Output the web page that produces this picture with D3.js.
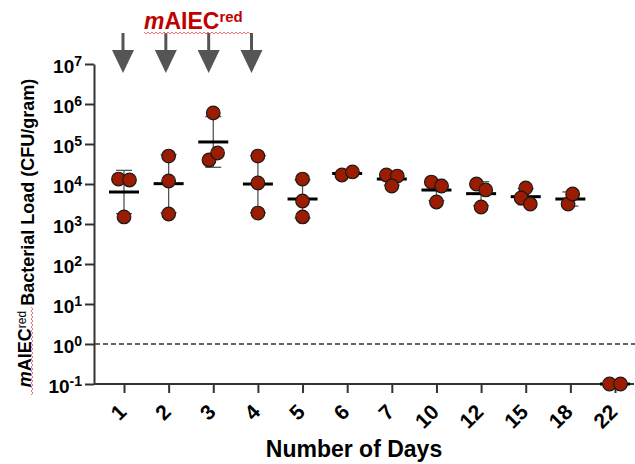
<!DOCTYPE html>
<html>
<head>
<meta charset="utf-8">
<script src="https://cdn.jsdelivr.net/npm/d3@7"></script>
<style>
  body { margin: 0; background: #fff; }
  svg { display: block; font-family: "Liberation Sans", Arial, Helvetica, sans-serif; }
</style>
</head>
<body>
<script>
// days sampled (categorical x axis)
var days = ["1", "2", "3", "4", "5", "6", "7", "10", "12", "15", "18", "22"];

// mAIEC-red load per mouse, CFU/gram, one list per day
var loadValues = [
  [13300, 12600, 1500],
  [50000, 11900, 1780],
  [596000, 40000, 59600],
  [50000, 10600, 1880],
  [13300, 3760, 1500],
  [16800, 20000],
  [16800, 15800, 8900],
  [11200, 8900, 3550],
  [10000, 7100, 2660],
  [7940, 4470, 3160],
  [3160, 5620],
  [0.1, 0.1]
];

// gavage days marked with arrows
var doseDays = ["1", "2", "3", "4"];

var yTicks = [1e-1, 1e0, 1e1, 1e2, 1e3, 1e4, 1e5, 1e6, 1e7];
var detectionLimit = 1;

var w = 635;
var h = 464;

var svg = d3.select("body").append("svg")
  .attr("width", w)
  .attr("height", h);

var x = d3.scalePoint().domain(days).range([124, 615]);
var y = d3.scaleLog().domain([0.1, 1e7]).range([384, 64]);

var axisColor = "#333";
var dotFill = "#9b1c00";

// y axis
var yAxis = svg.append("g")
  .attr("transform", "translate(94,0)")
  .call(d3.axisLeft(y).tickValues(yTicks).tickSize(9).tickSizeOuter(0).tickPadding(3));

yAxis.select(".domain").attr("stroke", axisColor).attr("stroke-width", 2);
yAxis.selectAll(".tick line").attr("stroke", axisColor).attr("stroke-width", 2);
yAxis.selectAll(".tick text")
  .attr("fill", "#000")
  .style("font-size", "19px")
  .style("font-weight", "bold")
  .attr("dy", "0.45em")
  .each(function(d) {
    var t = d3.select(this);
    t.text("");
    t.append("tspan").text("10");
    t.append("tspan")
      .attr("dy", "-0.5em")
      .style("font-size", "14px")
      .text(Math.round(Math.log10(d)));
  });

// x axis
var xAxis = svg.append("g")
  .attr("transform", "translate(0,384)")
  .call(d3.axisBottom(x).tickSize(9).tickSizeOuter(0));

xAxis.select(".domain").remove();
xAxis.selectAll(".tick line").attr("stroke", axisColor).attr("stroke-width", 2);
xAxis.selectAll(".tick text")
  .attr("fill", "#000")
  .style("font-size", "21px")
  .style("font-weight", "bold")
  .style("text-anchor", "end")
  .attr("y", 0)
  .attr("dy", "0.35em")
  .attr("transform", "translate(-2,24) rotate(-45)");

svg.append("line")
  .attr("x1", 94).attr("x2", 634)
  .attr("y1", 384).attr("y2", 384)
  .attr("stroke", axisColor)
  .attr("stroke-width", 2);

// limit of detection
svg.append("line")
  .attr("x1", 95).attr("x2", 635)
  .attr("y1", y(detectionLimit)).attr("y2", y(detectionLimit))
  .attr("stroke", "#333")
  .attr("stroke-width", 1.5)
  .attr("stroke-dasharray", "5,3");

// geometric mean and geometric SD for each day
var stats = days.map(function(day, i) {
  var logs = loadValues[i].map(function(v) { return Math.log10(v); });
  var m = d3.mean(logs);
  var sd = logs.length > 1 ? d3.deviation(logs) : 0;
  return { day: day, mean: Math.pow(10, m), lo: Math.pow(10, m - sd), hi: Math.pow(10, m + sd), sd: sd };
});

var bars = svg.append("g")
  .attr("stroke", "#555")
  .attr("stroke-width", 1.3);

stats.filter(function(s) { return s.sd > 0; }).forEach(function(s) {
  var cx = x(s.day);
  bars.append("line").attr("x1", cx).attr("x2", cx).attr("y1", y(s.hi)).attr("y2", y(s.lo));
  bars.append("line").attr("x1", cx - 8).attr("x2", cx + 8).attr("y1", y(s.hi)).attr("y2", y(s.hi));
  bars.append("line").attr("x1", cx - 8).attr("x2", cx + 8).attr("y1", y(s.lo)).attr("y2", y(s.lo));
});

svg.append("g").selectAll("line")
  .data(stats)
  .enter()
  .append("line")
  .attr("x1", function(d) { return x(d.day) - 15; })
  .attr("x2", function(d) { return x(d.day) + 15; })
  .attr("y1", function(d) { return y(d.mean); })
  .attr("y2", function(d) { return y(d.mean); })
  .attr("stroke", "#000")
  .attr("stroke-width", 3);

// scatter dots, spread sideways where they overlap
var dots = [];
days.forEach(function(day, i) {
  var n = loadValues[i].length;
  var nodes = loadValues[i].map(function(v, j) {
    return { v: v, x: x(day) + (j - (n - 1) / 2) * 0.5, y: y(v), fy: y(v) };
  });
  var sim = d3.forceSimulation(nodes)
    .force("x", d3.forceX(x(day)).strength(0.05))
    .force("collide", d3.forceCollide(5.5))
    .stop();
  for (var k = 0; k < 200; k++) sim.tick();
  dots = dots.concat(nodes);
});

svg.append("g").selectAll("circle")
  .data(dots)
  .enter()
  .append("circle")
  .attr("cx", function(d) { return d.x; })
  .attr("cy", function(d) { return d.fy; })
  .attr("r", 6.8)
  .attr("fill", dotFill)
  .attr("stroke", "#1a1a1a")
  .attr("stroke-width", 1.2);

// dosing arrows
var arrows = svg.append("g").attr("fill", "#555").attr("stroke", "#555");
doseDays.forEach(function(day, i) {
  var cx = x(day) - 1 - i * 1.8;
  arrows.append("line")
    .attr("x1", cx).attr("x2", cx)
    .attr("y1", 33).attr("y2", 52)
    .attr("stroke-width", 3);
  arrows.append("path")
    .attr("stroke", "none")
    .attr("d", "M" + (cx - 11) + ",50L" + (cx + 11) + ",50L" + cx + ",73Z");
});

// squiggly underline (as in the source image)
function squiggle(x0, y0, len, vertical) {
  var pts = [];
  for (var s = 0; s <= len; s += 2) {
    var off = (s / 2) % 2 === 0 ? 0 : 2;
    pts.push(vertical ? [x0 + off, y0 - s] : [x0 + s, y0 + off]);
  }
  svg.append("path")
    .attr("d", d3.line()(pts))
    .attr("fill", "none")
    .attr("stroke", "#e8504f")
    .attr("stroke-width", 0.8);
}

// title over the arrows
var title = svg.append("text")
  .attr("x", 144)
  .attr("y", 29)
  .attr("fill", "#c00000")
  .style("font-size", "23px")
  .style("font-weight", "bold");
title.append("tspan").style("font-style", "italic").text("m");
title.append("tspan").text("AIEC");
title.append("tspan").attr("dy", "-0.45em").style("font-size", "15px").text("red");
squiggle(144, 32, 106, false);

// y axis title
var yTitle = svg.append("text")
  .attr("transform", "translate(31,233) rotate(-90)")
  .attr("text-anchor", "middle")
  .attr("fill", "#000")
  .style("font-size", "18px")
  .style("font-weight", "bold");
yTitle.append("tspan").style("font-style", "italic").text("m");
yTitle.append("tspan").text("AIEC");
yTitle.append("tspan").attr("dy", "-0.45em").style("font-size", "12px").style("font-weight", "normal").text("red");
yTitle.append("tspan").attr("dy", "0.45em").text(" Bacterial Load (CFU/gram)");
squiggle(31, 395, 88, true);

// x axis title
svg.append("text")
  .attr("x", 354)
  .attr("y", 457)
  .attr("text-anchor", "middle")
  .attr("fill", "#000")
  .style("font-size", "23px")
  .style("font-weight", "bold")
  .text("Number of Days");
</script>
</body>
</html>
